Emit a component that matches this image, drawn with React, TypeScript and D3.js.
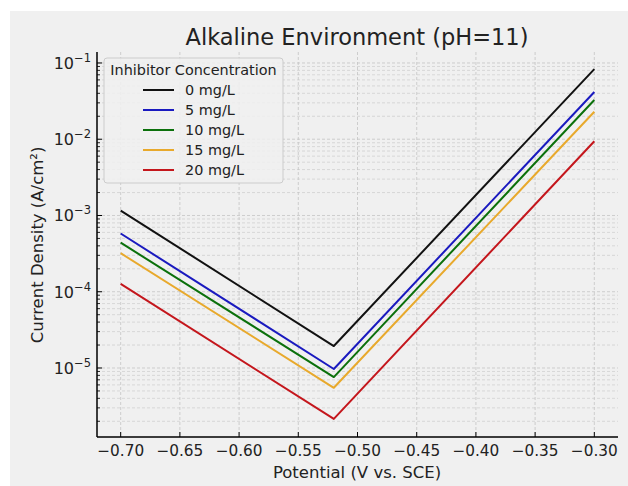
import React from "react";
import * as d3 from "d3";

const potentials = [-0.7, -0.52, -0.3];
const labels = ["0 mg/L", "5 mg/L", "10 mg/L", "15 mg/L", "20 mg/L"];
const colors = ["#111111", "#1a1abf", "#0b700b", "#e8a92c", "#c4161c"];
const i0 = [1.16e-3, 1.94e-5, 0.083];
const i5 = [5.8e-4, 9.7e-6, 0.0417];
const i10 = [4.4e-4, 7.6e-6, 0.0327];
const i15 = [3.2e-4, 5.5e-6, 0.0229];
const i20 = [1.27e-4, 2.15e-6, 0.0094];
const seriesValues = [i0, i5, i10, i15, i20];
const xTicks = [-0.7, -0.65, -0.6, -0.55, -0.5, -0.45, -0.4, -0.35, -0.3];
const yDecades = [-5, -4, -3, -2, -1];

const W = 628, H = 486;
const L = 97, R = 618, T = 52, B = 437;
const FONT = "'DejaVu Sans', sans-serif";

export default function App() {
  const x = d3.scaleLinear().domain([-0.72, -0.28]).range([L, R]);
  const y = d3.scaleLog().domain([Math.pow(10, -5.905), Math.pow(10, -0.856)]).range([B, T]);
  const [ymin, ymax] = y.domain();
  const minor: number[] = [];
  for (let e = -7; e <= 0; e++) {
    for (let m = 2; m <= 9; m++) {
      const v = m * Math.pow(10, e);
      if (v >= ymin && v <= ymax) minor.push(v);
    }
  }
  const line = d3
    .line<[number, number]>()
    .x((d) => x(d[0]))
    .y((d) => y(d[1]));
  const fmt = d3.format(".2f");
  const tickLabel = (v: number) => fmt(v).replace("-", "\u2212");

  return (
    <svg width={W} height={H} style={{ display: "block", position: "absolute", left: 0, top: 0 }} fontFamily={FONT}>
      <rect x={0} y={0} width={W} height={H} fill="#ffffff" />
      <rect x={10} y={11} width={W - 10} height={H - 11} fill="#f0f0f0" />
      {/* grid */}
      <g stroke="#c4c4c4" strokeWidth={0.8} strokeDasharray="3,2" fill="none">
        {minor.map((v, i) => (
          <line key={"mn" + i} x1={L} x2={R} y1={y(v)} y2={y(v)} stroke="#d0d0d0" />
        ))}
        {yDecades.map((e) => (
          <line key={"mj" + e} x1={L} x2={R} y1={y(Math.pow(10, e))} y2={y(Math.pow(10, e))} />
        ))}
        {xTicks.map((v) => (
          <line key={"xg" + v} x1={x(v)} x2={x(v)} y1={T} y2={B} />
        ))}
      </g>
      {/* series */}
      <g fill="none" strokeWidth={2} strokeLinejoin="round" strokeLinecap="butt">
        {seriesValues.map((vals, si) => (
          <path
            key={si}
            d={line(potentials.map((p, k) => [p, vals[k]] as [number, number])) || ""}
            stroke={colors[si]}
          />
        ))}
      </g>
      {/* spines */}
      <line x1={L} x2={L} y1={T} y2={B} stroke="#000" strokeWidth={1.5} />
      <line x1={L} x2={R} y1={B} y2={B} stroke="#000" strokeWidth={1.5} />
      {/* x ticks */}
      {xTicks.map((v) => (
        <g key={"xt" + v}>
          <line x1={x(v)} x2={x(v)} y1={B} y2={B - 5} stroke="#000" strokeWidth={1} />
          <text x={x(v)} y={456} textAnchor="middle" fontSize={15.3} fill="#222">
            {tickLabel(v)}
          </text>
        </g>
      ))}
      {/* y ticks */}
      {minor.map((v, i) => (
        <line key={"ymt" + i} x1={L} x2={L + 3} y1={y(v)} y2={y(v)} stroke="#000" strokeWidth={0.8} />
      ))}
      {yDecades.map((e) => (
        <g key={"yt" + e}>
          <line x1={L} x2={L + 5} y1={y(Math.pow(10, e))} y2={y(Math.pow(10, e))} stroke="#000" strokeWidth={1} />
          <text x={91} y={y(Math.pow(10, e)) + 6} textAnchor="end" fontSize={16} fill="#222">
            10
            <tspan dy={-7} fontSize={11.5}>
              {"\u2212" + Math.abs(e)}
            </tspan>
          </text>
        </g>
      ))}
      {/* labels */}
      <text x={357} y={45} textAnchor="middle" fontSize={22.5} fill="#222">
        Alkaline Environment (pH=11)
      </text>
      <text x={357} y={478} textAnchor="middle" fontSize={16.5} fill="#222">
        Potential (V vs. SCE)
      </text>
      <text transform={`translate(43,245) rotate(-90)`} textAnchor="middle" fontSize={16.5} fill="#222">
        Current Density (A/cm²)
      </text>
      {/* legend */}
      <g>
        <rect x={104} y={58} width={179} height={125} rx={3} fill="#f0f0f0" fillOpacity={0.85} stroke="#cccccc" strokeWidth={1} />
        <text x={193.5} y={75} textAnchor="middle" fontSize={14.4} fill="#222">
          Inhibitor Concentration
        </text>
        {labels.map((lab, i) => (
          <g key={lab}>
            <line x1={143} x2={174} y1={90 + i * 20} y2={90 + i * 20} stroke={colors[i]} strokeWidth={2} />
            <text x={185} y={95 + i * 20} fontSize={14.4} fill="#222">
              {lab}
            </text>
          </g>
        ))}
      </g>
    </svg>
  );
}
